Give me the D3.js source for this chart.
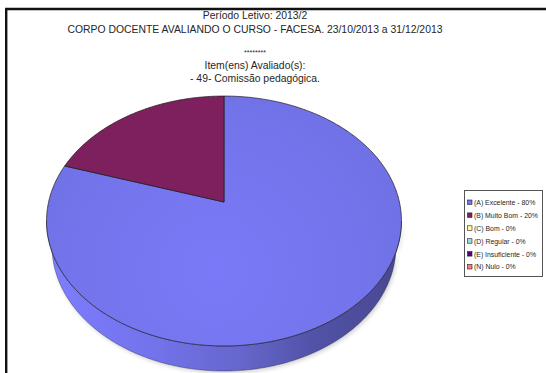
<!DOCTYPE html>
<html>
<head>
<meta charset="utf-8">
<script src="https://cdn.jsdelivr.net/npm/d3@7"></script>
<style>
  html, body { margin: 0; padding: 0; background: #fff; }
  svg { display: block; }
  text { font-family: "Liberation Sans", Arial, sans-serif; }
</style>
</head>
<body>
<script>
// Evaluation results: Comissão pedagógica
const categories = ["(A) Excelente", "(B) Muito Bom", "(C) Bom", "(D) Regular", "(E) Insuficiente", "(N) Nulo"];
const values = [80, 20, 0, 0, 0, 0];
const colors = ["#7474ea", "#7e1f5e", "#ffff99", "#99dddd", "#55007f", "#ff7777"];
const titleLines = [
  "Período Letivo: 2013/2",
  "CORPO DOCENTE AVALIANDO O CURSO - FACESA. 23/10/2013 a 31/12/2013"
];
const subtitleLines = ["Item(ens) Avaliado(s):", "- 49- Comissão pedagógica."];

const W = 546, H = 373;
const svg = d3.select("body").append("svg").attr("width", W).attr("height", H);
const defs = svg.append("defs");

// Outer frame (only top and left edges fall inside the window)
svg.append("path")
  .attr("d", "M6.2,373 V9 H546")
  .attr("fill", "none").attr("stroke", "#111").attr("stroke-width", 2.4);

// Titles
const cxText = 255;
const tg = svg.append("g").attr("fill", "#262626").attr("text-anchor", "middle");
tg.selectAll("text.t").data(titleLines).join("text")
  .attr("class", "t")
  .attr("x", cxText).attr("y", (d, i) => 19 + i * 14)
  .attr("font-size", 10.4)
  .text(d => d);
tg.append("text").attr("x", cxText).attr("y", 55).attr("font-size", 7).text("********");
tg.selectAll("text.s").data(subtitleLines).join("text")
  .attr("class", "s")
  .attr("x", cxText).attr("y", (d, i) => 69 + i * 12.5)
  .attr("font-size", 10.4)
  .text(d => d);

// 3D pie projection (tilted disc viewed in perspective)
const pc = { cx: 224, cy: 202, k: 175.4, sinP: 0.696, L: 4.72, depth: 0.21 };
pc.cosP = Math.sqrt(1 - pc.sinP * pc.sinP);
function proj(X, Y, Z) {
  const v = Z * pc.sinP + Y * pc.cosP;
  const w = Z * pc.cosP - Y * pc.sinP;
  const s = 1 + w / pc.L;
  return [pc.cx + pc.k * X / s, pc.cy - pc.k * v / s];
}
// angle a follows d3.pie convention: 0 at 12 o'clock, clockwise
const rim = (a, y = 0) => proj(Math.sin(a), y, Math.cos(a));

const pie = d3.pie().sort(null).value(d => d)(values);
const arcs = pie.filter(d => d.endAngle > d.startAngle);

// find the silhouette angles of the rim for the side wall
let aR = 0, aL = 0, maxX = -1e9, minX = 1e9;
for (let a = 0; a <= 2 * Math.PI; a += 0.001) {
  const p = rim(a);
  if (p[0] > maxX) { maxX = p[0]; aR = a; }
  if (p[0] < minX) { minX = p[0]; aL = a; }
}

// Side wall gradient
const sg = defs.append("linearGradient").attr("id", "sideGrad")
  .attr("gradientUnits", "userSpaceOnUse")
  .attr("x1", minX).attr("x2", maxX).attr("y1", 0).attr("y2", 0);
[[0, "#7d7dff"], [0.3, "#7373ec"], [0.55, "#6666cc"], [0.75, "#5252a8"], [1, "#48488f"]]
  .forEach(([o, c]) => sg.append("stop").attr("offset", o).attr("stop-color", c));

// soft shadow under the pie
const blur = defs.append("filter").attr("id", "shadow")
  .attr("x", "-20%").attr("y", "-20%").attr("width", "140%").attr("height", "140%");
blur.append("feGaussianBlur").attr("stdDeviation", 2);

const line = d3.line();
const step = 0.01;
function sidePath(a0, a1) {
  const top = [], bot = [];
  for (let a = a0; a <= a1; a += step) { top.push(rim(a)); bot.push(rim(a, -pc.depth)); }
  top.push(rim(a1)); bot.push(rim(a1, -pc.depth));
  return line(top.concat(bot.reverse())) + "Z";
}
// front wall runs from the right silhouette through 6 o'clock to the left one
svg.append("path")
  .attr("d", sidePath(aR, aL))
  .attr("transform", "translate(1.5,2)")
  .attr("fill", "#000").attr("opacity", 0.18).attr("filter", "url(#shadow)");
svg.append("path")
  .attr("d", sidePath(aR, aL))
  .attr("fill", "url(#sideGrad)")
  .attr("stroke", "#2a2a55").attr("stroke-width", 0.6).attr("stroke-opacity", 0.7);

// Top face gradients
const topGrad = defs.append("radialGradient").attr("id", "topGrad")
  .attr("gradientUnits", "userSpaceOnUse")
  .attr("cx", 215).attr("cy", 270).attr("r", 220);
[[0, "#7a7af8"], [1, "#7070e4"]]
  .forEach(([o, c]) => topGrad.append("stop").attr("offset", o).attr("stop-color", c));

function slicePath(d) {
  const pts = [proj(0, 0, 0)];
  for (let a = d.startAngle; a < d.endAngle; a += step) pts.push(rim(a));
  pts.push(rim(d.endAngle));
  return line(pts) + "Z";
}
svg.append("g").selectAll("path").data(arcs).join("path")
  .attr("d", slicePath)
  .attr("fill", d => d.index === 0 ? "url(#topGrad)" : colors[d.index])
  .attr("stroke", "#1a1a1a").attr("stroke-width", 0.7).attr("stroke-linejoin", "round");

// Legend
const lg = svg.append("g");
lg.append("rect").attr("x", 464.5).attr("y", 190.5).attr("width", 78).attr("height", 86)
  .attr("fill", "#fff").attr("stroke", "#555").attr("stroke-width", 1);
const rows = lg.selectAll("g.row").data(categories).join("g")
  .attr("class", "row")
  .attr("transform", (d, i) => `translate(467, ${202.5 + i * 12.9})`);
rows.append("rect").attr("x", 0.5).attr("y", -2.5).attr("width", 4.5).attr("height", 4.5)
  .attr("fill", (d, i) => colors[i]).attr("stroke", "#222").attr("stroke-width", 0.6);
rows.append("text").attr("x", 7).attr("y", 2.4)
  .attr("font-size", 6.9).attr("fill", "#262626")
  .text((d, i) => `${d} - ${values[i]}%`);
</script>
</body>
</html>
